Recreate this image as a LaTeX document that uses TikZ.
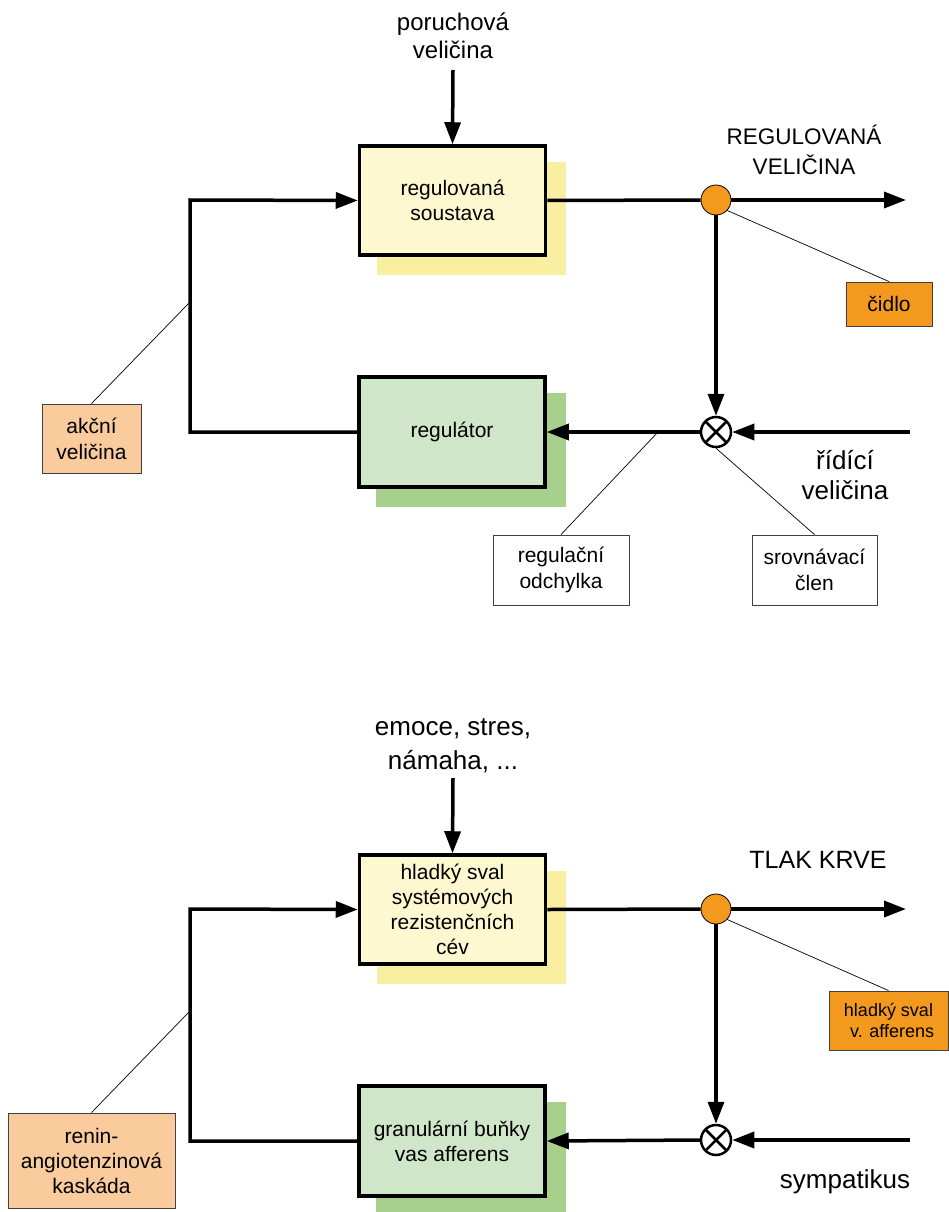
\documentclass[tikz,border=0pt]{standalone}
\usepackage{fontspec}
\setmainfont{Liberation Sans}
\usetikzlibrary{arrows.meta,backgrounds,calc}

\definecolor{boxyellow}{RGB}{253,248,208}
\definecolor{shadowyellow}{RGB}{248,240,160}
\definecolor{boxgreen}{RGB}{208,230,200}
\definecolor{shadowgreen}{RGB}{166,208,140}
\definecolor{sensororange}{RGB}{243,154,30}
\definecolor{labelpeach}{RGB}{250,203,156}
\definecolor{labelborder}{RGB}{64,64,64}

\begin{document}
\begin{tikzpicture}[x=1pt,y=-1pt,
  block/.style={draw, line width=3.5pt, inner sep=0pt, minimum width=186pt,
    minimum height=109pt, align=center, font=\fontsize{21}{25}\selectfont},
  plant/.style={block, fill=boxyellow},
  controller/.style={block, fill=boxgreen, minimum height=110pt},
  sig/.style={line width=3.5pt, -{Triangle[length=22pt,width=16pt]}},
  wire/.style={line width=3.5pt},
  note/.style={draw=labelborder, line width=0.9pt, inner sep=0pt, align=center,
    font=\fontsize{21}{26}\selectfont},
  pointer/.style={line width=0.7pt},
  bigtext/.style={align=center, font=\fontsize{26}{30}\selectfont, inner sep=0pt},
  captext/.style={align=center, font=\fontsize{25}{30}\selectfont, inner sep=0pt},
  sensor/.style={circle, draw, line width=0.8pt, fill=sensororange,
    minimum size=30pt, inner sep=0pt},
  comparator/.style={circle, draw, line width=2.5pt, fill=white,
    minimum size=30pt, inner sep=0pt,
    path picture={\draw[line width=2.5pt]
      (path picture bounding box.north west) -- (path picture bounding box.south east)
      (path picture bounding box.north east) -- (path picture bounding box.south west);}},
  yshadow/.style={fill=shadowyellow},
  gshadow/.style={fill=shadowgreen}
]
\useasboundingbox (0,0) rectangle (949,1212);
\clip (0,0) rectangle (949,1212);

% ---------- general control loop ----------
\node[plant] (sys) at (452.5,200.5) {regulovaná\\soustava};
\node[controller] (reg) at (452,432) {regulátor};
\node[sensor] (sen) at (716,200) {};
\node[comparator] (cmp) at (716,432) {};

\node[bigtext, font=\fontsize{24}{28}\selectfont] (dist) at (453,36) {poruchová\\veličina};
\coordinate (distend) at (453,70);
\node[captext, font=\fontsize{22.5}{30}\selectfont] (out) at (804,150) {REGULOVANÁ\\VELIČINA};
\coordinate (outend) at (906,200);
\coordinate (refstart) at (910,432);
\node[bigtext] (ref) at (845,475) {řídící\\veličina};
\coordinate (loopbottom) at (190,432);
\coordinate (looptop) at (190,200);

\node[note, fill=labelpeach, minimum width=99pt, minimum height=69pt] (act) at (91.5,438.5) {akční\\veličina};
\coordinate (actpt) at (189,303);
\node[note, fill=sensororange, minimum width=86pt, minimum height=44pt] (cidlo) at (889,304) {čidlo};
\node[note, fill=white, minimum width=136pt, minimum height=70pt] (err) at (561,570) {regulační\\odchylka};
\coordinate (errpt) at (658,432);
\node[note, fill=white, minimum width=125pt, minimum height=70pt] (cmpnote) at (814.5,570) {srovnávací\\člen};

\draw[sig] (distend) -- (sys.north);
\draw[wire] (sys.east) -- (sen.west);
\draw[sig] (sen.east) -- (outend);
\draw[sig] (sen.south) -- (cmp.north);
\draw[sig] (refstart) -- (cmp.east);
\draw[sig] (cmp.west) -- (reg.east);
\draw[sig] (reg.west) -- (loopbottom) -- (looptop) -- (sys.west);

\draw[pointer] (act.north) -- (actpt);
\draw[pointer] (sen.-43) -- (cidlo.north);
\draw[pointer] (err.north) -- (errpt);
\draw[pointer] (cmp.south) -- (cmpnote.north);

% ---------- blood pressure loop ----------
\node[plant] (sysb) at (452.5,909.5) {hladký sval\\systémových\\rezistenčních\\cév};
\node[controller] (regb) at (452,1141) {granulární buňky\\vas afferens};
\node[sensor] (senb) at (716,909) {};
\node[comparator] (cmpb) at (716,1140) {};

\node[bigtext, font=\fontsize{26}{34}\selectfont] (distb) at (453,746) {emoce, stres,\\námaha, ...};
\coordinate (distbend) at (453,778);
\node[captext] (outb) at (818,860) {TLAK KRVE};
\coordinate (outbend) at (906,909);
\coordinate (refbstart) at (910,1140);
\node[bigtext] (refb) at (845,1182) {sympatikus};
\coordinate (loopbbottom) at (190,1141);
\coordinate (loopbtop) at (190,909);

\node[note, fill=labelpeach, minimum width=167pt, minimum height=95pt,
  font=\fontsize{21}{25}\selectfont] (ras) at (91.5,1160.5) {renin-\\angiotenzinová\\kaskáda};
\coordinate (raspt) at (189,1012);
\node[note, fill=sensororange, minimum width=119pt, minimum height=59pt,
  font=\fontsize{18}{21}\selectfont] (afferens) at (888.5,1020.5) {hladký sval\\\hspace{0.4em}v. afferens};

\draw[sig] (distbend) -- (sysb.north);
\draw[wire] (sysb.east) -- (senb.west);
\draw[sig] (senb.east) -- (outbend);
\draw[sig] (senb.south) -- (cmpb.north);
\draw[sig] (refbstart) -- (cmpb.east);
\draw[sig] (cmpb.west) -- (regb.east);
\draw[sig] (regb.west) -- (loopbbottom) -- (loopbtop) -- (sysb.west);

\draw[pointer] (ras.north) -- (raspt);
\draw[pointer] (senb.-43) -- (afferens.north);

% ---------- drop shadows behind the blocks ----------
\begin{scope}[on background layer]
  \fill[yshadow] ($(sys.north west)+(19,18)$) rectangle ($(sys.south east)+(19,18)$);
  \fill[gshadow] ($(reg.north west)+(19,18)$) rectangle ($(reg.south east)+(19,18)$);
  \fill[yshadow] ($(sysb.north west)+(19,18)$) rectangle ($(sysb.south east)+(19,18)$);
  \fill[gshadow] ($(regb.north west)+(19,18)$) rectangle ($(regb.south east)+(19,18)$);
\end{scope}
\end{tikzpicture}
\end{document}
